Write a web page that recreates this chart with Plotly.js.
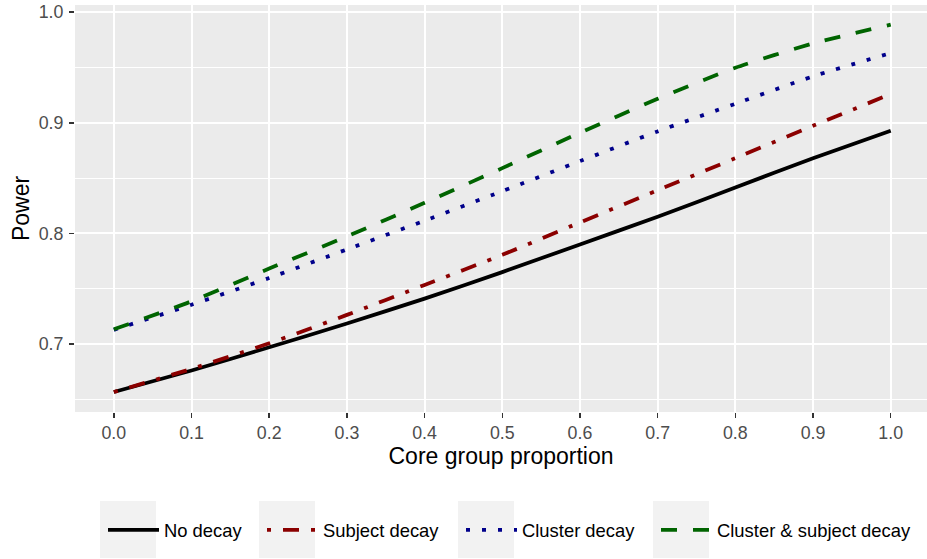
<!DOCTYPE html>
<html>
<head>
<meta charset="utf-8">
<script src="https://cdn.plot.ly/plotly-3.0.1.min.js"></script>
<style>html,body{margin:0;padding:0;background:#fff;}#chart{width:927px;height:559px;}</style>
</head>
<body>
<div id="chart"></div>
<script>
// ---- data ----
var coreProportion = [0.0, 0.1, 0.2, 0.3, 0.4, 0.5, 0.6, 0.7, 0.8, 0.9, 1.0];
var noDecay        = [0.6566, 0.6760, 0.6970, 0.7185, 0.7410, 0.7650, 0.7900, 0.8150, 0.8415, 0.8680, 0.8928];
var subjectDecay   = [0.6566, 0.6775, 0.7006, 0.7263, 0.7534, 0.7806, 0.8099, 0.8390, 0.8680, 0.8973, 0.9260];
var clusterDecay   = [0.7128, 0.7355, 0.7597, 0.7855, 0.8115, 0.8382, 0.8653, 0.8922, 0.9172, 0.9420, 0.9630];
var clusterSubject = [0.7133, 0.7386, 0.7682, 0.7972, 0.8276, 0.8590, 0.8910, 0.9217, 0.9498, 0.9718, 0.9887];
var seriesNames = ['No decay', 'Subject decay', 'Cluster decay', 'Cluster & subject decay'];
var xTickVals = [0.0, 0.1, 0.2, 0.3, 0.4, 0.5, 0.6, 0.7, 0.8, 0.9, 1.0];
var xTickText = ['0.0', '0.1', '0.2', '0.3', '0.4', '0.5', '0.6', '0.7', '0.8', '0.9', '1.0'];
var yTickVals = [0.7, 0.8, 0.9, 1.0];
var yTickText = ['0.7', '0.8', '0.9', '1.0'];
var yMinorVals = [0.65, 0.75, 0.85, 0.95];

// ---- styling ----
var FONT = 'Liberation Sans, Arial, Helvetica, sans-serif';
var W = 927, H = 559;
var M = {l: 75, r: 0, t: 5, b: 147};
var plotW = W - M.l - M.r, plotH = H - M.t - M.b;
function px2x(px) { return (px - M.l) / plotW; }
function px2y(py) { return (H - M.b - py) / plotH; }

var seriesY = [noDecay, subjectDecay, clusterDecay, clusterSubject];
var colors = ['#000000', '#8B0000', '#00008B', '#006400'];
var dashes = ['solid', '4px,12px,16px,12px', '4px,12px', '16px,16px'];
var legendIds = ['legend', 'legend2', 'legend3', 'legend4'];
var keyLeft = [100, 259, 458, 653];

var traces = seriesY.map(function (ys, i) {
  return {
    x: coreProportion, y: ys, type: 'scatter', mode: 'lines',
    name: seriesNames[i], legend: legendIds[i],
    line: {color: colors[i], width: 3.8, dash: dashes[i], shape: 'spline', smoothing: 0.6},
    hoverinfo: 'skip'
  };
});

var layout = {
  width: W, height: H, margin: M,
  paper_bgcolor: '#ffffff', plot_bgcolor: '#EBEBEB',
  font: {family: FONT, color: '#000000'},
  showlegend: true,
  xaxis: {
    range: [-0.05, 1.0467], tickmode: 'array', tickvals: xTickVals, ticktext: xTickText,
    showgrid: true, gridcolor: '#ffffff', gridwidth: 2, zeroline: false, showline: false,
    ticks: 'outside', ticklen: 5, tickwidth: 1.5, tickcolor: '#333333',
    tickfont: {family: FONT, size: 17.8, color: '#4D4D4D'},
    ticklabelstandoff: 0,
    title: {text: 'Core group proportion', font: {family: FONT, size: 23, color: '#000'}, standoff: 0},
    automargin: false, fixedrange: true
  },
  yaxis: {
    range: [0.6385, 1.0065], tickmode: 'array', tickvals: yTickVals, ticktext: yTickText,
    showgrid: true, gridcolor: '#ffffff', gridwidth: 2, zeroline: false, showline: false,
    ticks: 'outside', ticklen: 5, tickwidth: 1.5, tickcolor: '#333333',
    tickfont: {family: FONT, size: 17.8, color: '#4D4D4D'},
    ticklabelstandoff: 2,
    minor: {tickmode: 'array', tickvals: yMinorVals, showgrid: true, gridcolor: '#ffffff', gridwidth: 1, ticks: ''},
    title: {text: 'Power', font: {family: FONT, size: 23, color: '#000'}, standoff: 2},
    automargin: false, fixedrange: true
  },
  shapes: keyLeft.map(function (kx) {
    return {type: 'rect', xref: 'paper', yref: 'paper', layer: 'below',
      x0: px2x(kx), x1: px2x(kx + 56), y0: px2y(501), y1: px2y(558),
      fillcolor: '#F2F2F2', line: {width: 0}};
  })
};
legendIds.forEach(function (id, i) {
  layout[id] = {
    x: px2x(keyLeft[i] + 3), y: px2y(530), xanchor: 'left', yanchor: 'middle',
    orientation: 'v', bgcolor: 'rgba(0,0,0,0)', borderwidth: 0, itemwidth: 51,
    font: {family: FONT, size: 18.4, color: '#000'}
  };
});

Plotly.newPlot('chart', traces, layout, {staticPlot: true, displayModeBar: false});
</script>
</body>
</html>
